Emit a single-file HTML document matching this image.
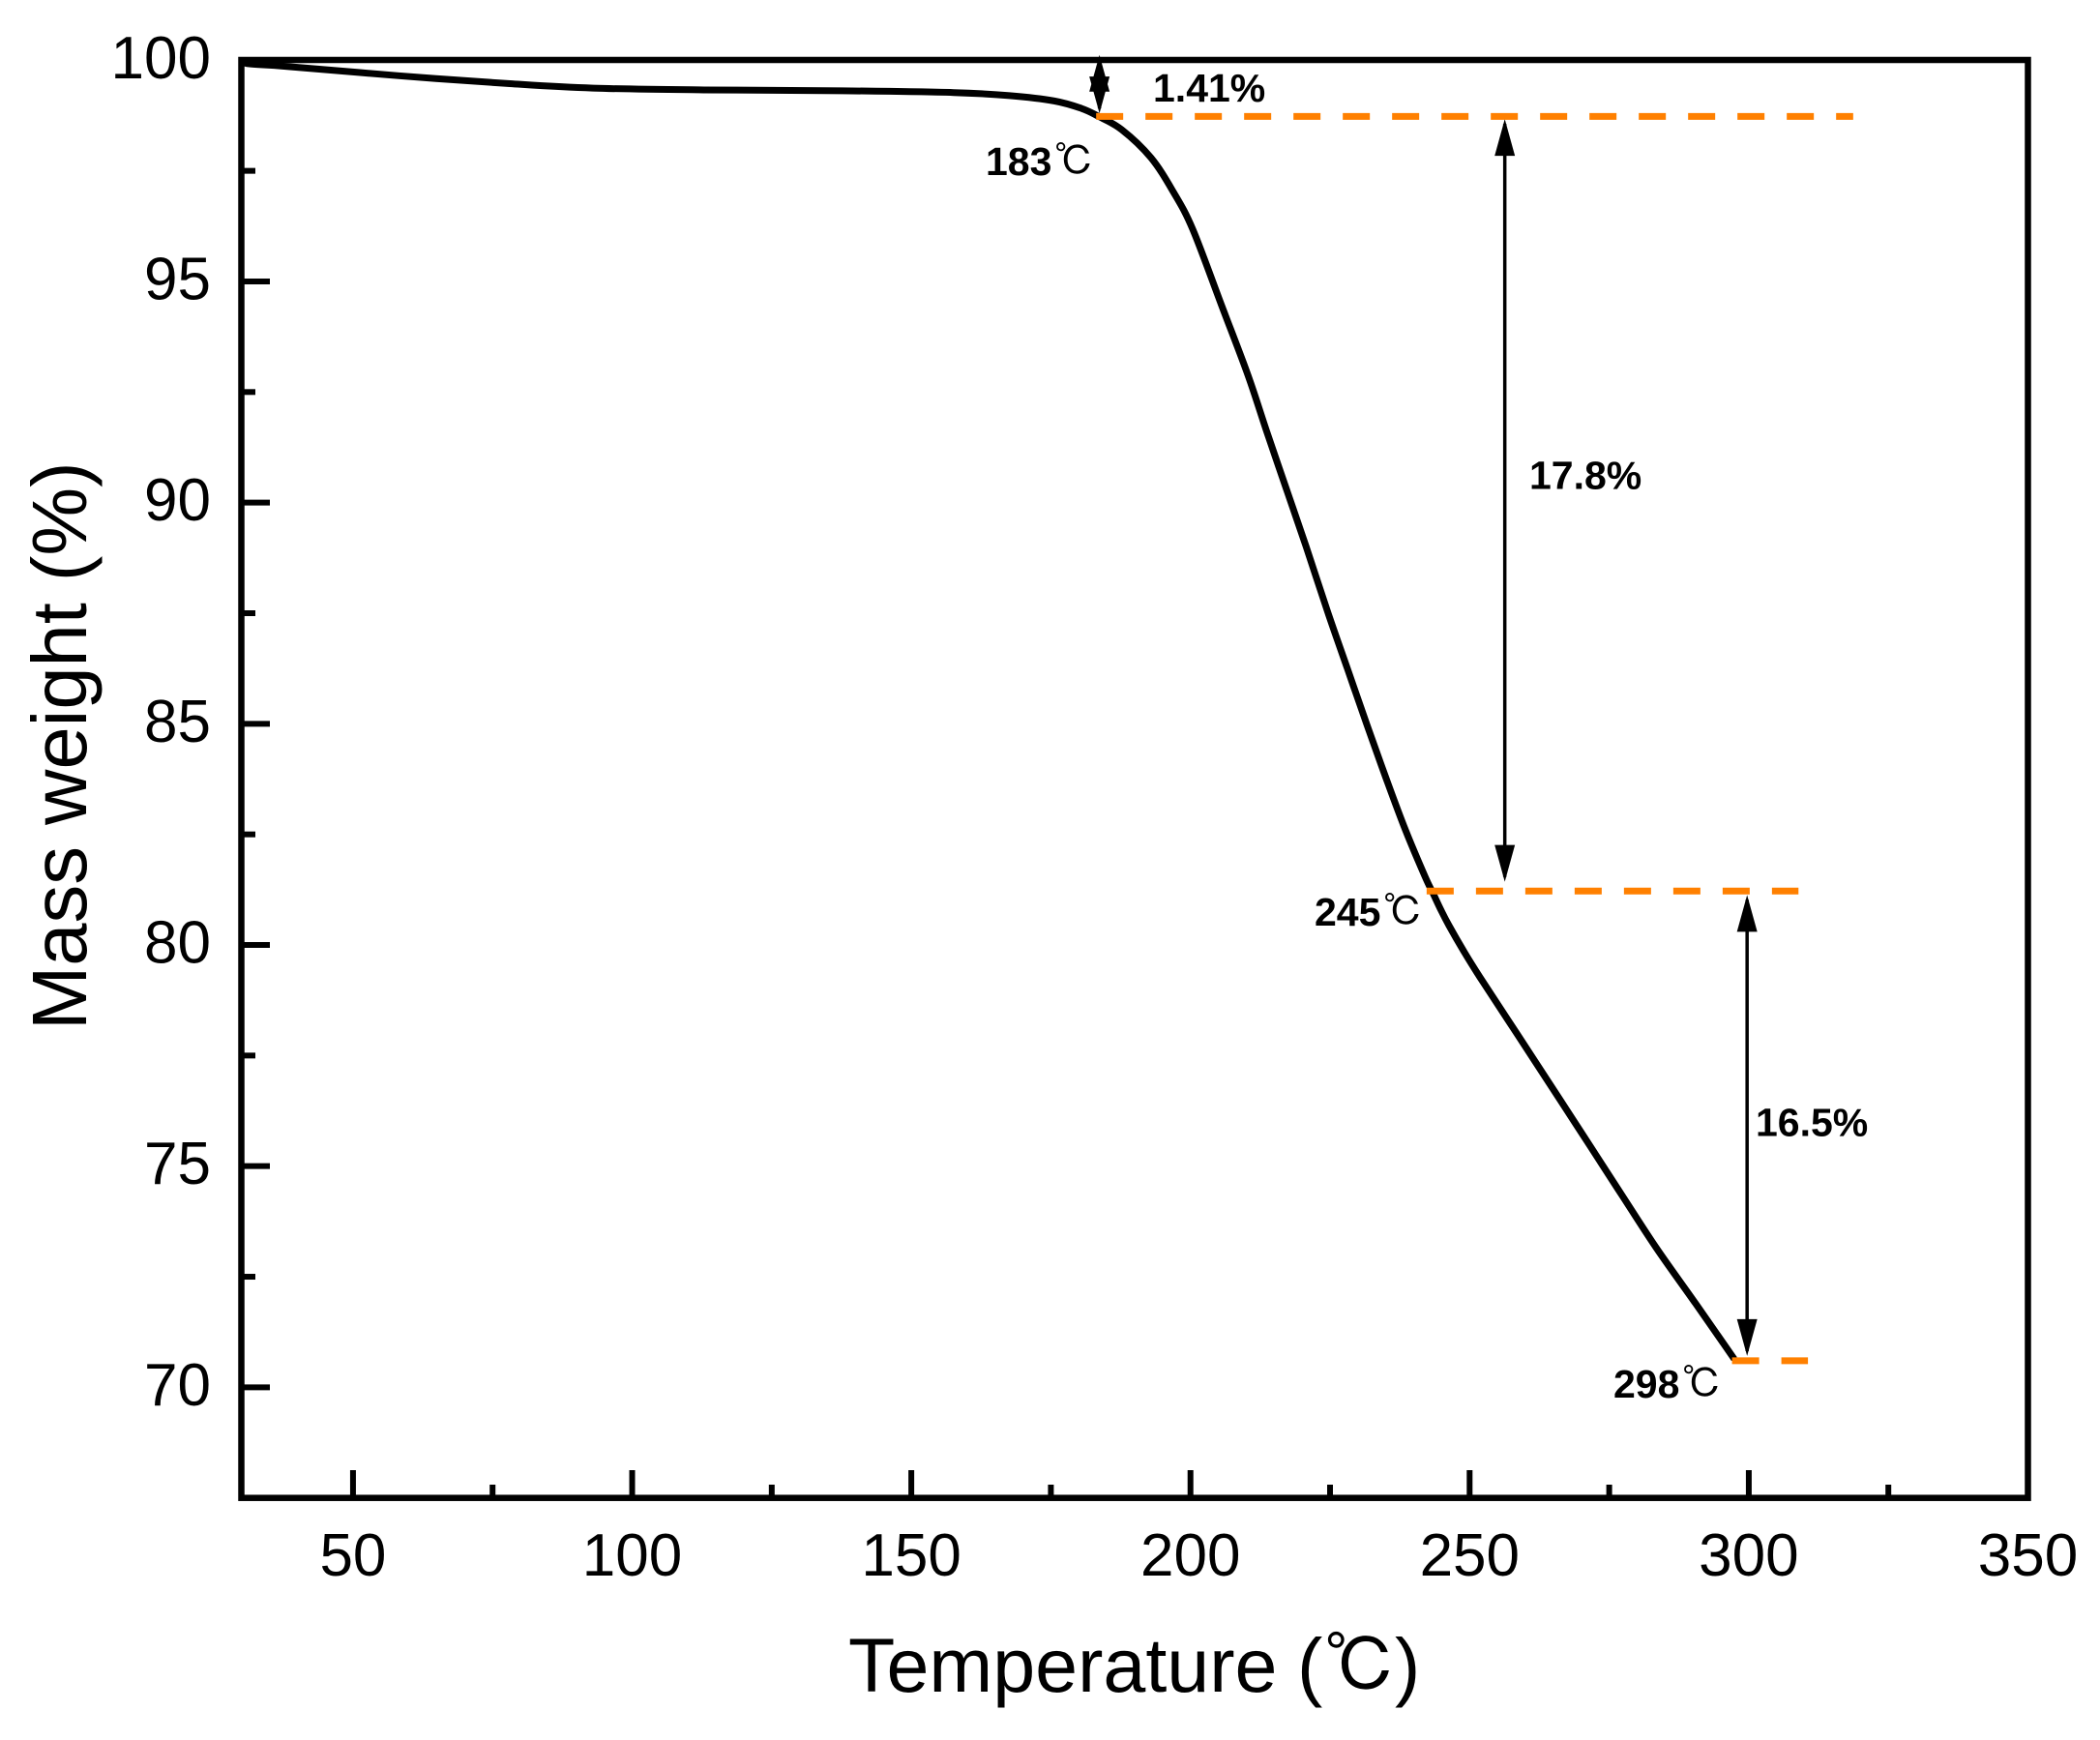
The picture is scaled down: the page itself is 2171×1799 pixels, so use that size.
<!DOCTYPE html>
<html lang="en">
<head>
<meta charset="utf-8">
<title>Mass weight vs temperature</title>
<style>
  html, body { margin: 0; padding: 0; background: #fff; width: 2171px; height: 1799px; overflow: hidden; }
  svg { display: block; }
  text { font-family: "Liberation Sans", "Noto Sans CJK SC", sans-serif; fill: #000; }
  .tick-label { font-size: 62px; }
  .axis-title { font-size: 79.5px; }
  .note { font-size: 41px; font-weight: 700; }
  .deg { font-family: "IPAGothic", "Noto Serif CJK SC", serif; font-weight: 400; }
</style>
</head>
<body>
<svg id="chart" xmlns="http://www.w3.org/2000/svg" width="2171" height="1799" viewBox="0 0 2171 1799">
  <rect x="0" y="0" width="2171" height="1799" fill="#fff"/>
  <g id="ticks"></g>
  <g id="tick-labels"></g>
  <g id="series"></g>
  <g id="arrows"></g>
  <g id="guides"></g>
  <rect x="249.5" y="62" width="1847" height="1486.7" fill="none" stroke="#000" stroke-width="6.5"/>

  <text class="axis-title" y="1749" font-size="79" style="font-size:79px"><tspan x="877">Temperature</tspan><tspan x="1341">(</tspan><tspan class="deg" x="1369" style="font-size:75px">℃</tspan><tspan x="1442">)</tspan></text>
  <text class="axis-title" transform="translate(89 1065) rotate(-90)" x="0" y="0">Mass weight (%)</text>

  <text class="note" x="1192" y="105">1.41%</text>
  <text class="note" x="1581" y="505.5">17.8%</text>
  <text class="note" x="1815" y="1174.5">16.5%</text>
  <text class="note" y="181"><tspan x="1019">183</tspan><tspan class="deg" x="1090">℃</tspan></text>
  <text class="note" y="957"><tspan x="1359">245</tspan><tspan class="deg" x="1430">℃</tspan></text>
  <text class="note" y="1445"><tspan x="1668">298</tspan><tspan class="deg" x="1739">℃</tspan></text>
</svg>
<script>
const temperatures = [30, 31.3, 38.2, 58.2, 78.1, 93.0, 112.9, 137.7, 157.6, 167.6, 175.6, 180.5, 183.4, 187.7, 192.9, 196.9, 200.4, 205.6, 210.3, 213.7, 217.2, 220.7, 224.6, 228.1, 231.6, 235.0, 238.5, 242.0, 243.4, 244.9, 246.3, 248.9, 251.8, 258.6, 266.2, 271.4, 277.3, 283.5, 290.5, 297.4];
const massWeights = [100.0, 99.92, 99.86, 99.65, 99.47, 99.37, 99.33, 99.31, 99.27, 99.20, 99.08, 98.91, 98.74, 98.43, 97.80, 97.03, 96.18, 94.45, 92.88, 91.59, 90.30, 89.01, 87.52, 86.25, 84.98, 83.78, 82.60, 81.55, 81.18, 80.78, 80.44, 79.87, 79.28, 77.97, 76.50, 75.49, 74.34, 73.14, 71.89, 70.64];
const xMajorTicks = [50, 100, 150, 200, 250, 300, 350];
const xMinorTicks = [75, 125, 175, 225, 275, 325];
const yMajorTicks = [70, 75, 80, 85, 90, 95, 100];
const yMinorTicks = [72.5, 77.5, 82.5, 87.5, 92.5, 97.5];
const guideLevels = [98.73, 81.22, 70.6];
const guideStarts = [183.1, 242.3, 297.0];
const guideEnds = [318.7, 308.9, 310.6];
const arrowTemps = [183.7, 256.3, 299.7];
const arrowTops = [100.12, 98.67, 81.13];
const arrowBottoms = [98.8, 81.43, 70.71];

const NS = 'http://www.w3.org/2000/svg';
const xScale = v => 249.5 + (v - 30) * (1847 / 320);
const yScale = v => 62.3 + (100 - v) * (1486.4 / 32.5);
const AXIS_BOTTOM = 1548.7;
const AXIS_LEFT = 249.5;

function make(tag, attrs, parent) {
  const el = document.createElementNS(NS, tag);
  for (const k in attrs) el.setAttribute(k, attrs[k]);
  parent.appendChild(el);
  return el;
}

const tickLayer = document.getElementById('ticks');
const labelLayer = document.getElementById('tick-labels');
const seriesLayer = document.getElementById('series');
const arrowLayer = document.getElementById('arrows');
const guideLayer = document.getElementById('guides');

xMajorTicks.forEach(v => {
  const t = make('line', { x1: xScale(v), x2: xScale(v), y1: AXIS_BOTTOM, y2: 1520, stroke: '#000', 'stroke-width': 6 }, tickLayer);
  
  
  const l = make('text', { class: 'tick-label', x: xScale(v), y: 1629, 'text-anchor': 'middle' }, labelLayer);
  l.textContent = String(v);
  
  
});
xMinorTicks.forEach(v => {
  const t = make('line', { x1: xScale(v), x2: xScale(v), y1: AXIS_BOTTOM, y2: 1535, stroke: '#000', 'stroke-width': 6 }, tickLayer);
  
  
});
yMajorTicks.forEach(v => {
  const t = make('line', { x1: AXIS_LEFT, x2: 279, y1: yScale(v), y2: yScale(v), stroke: '#000', 'stroke-width': 6 }, tickLayer);
  
  
  const l = make('text', { class: 'tick-label', x: 218, y: yScale(v) + 18.5, 'text-anchor': 'end' }, labelLayer);
  l.textContent = String(v);
  
  
});
yMinorTicks.forEach(v => {
  const t = make('line', { x1: AXIS_LEFT, x2: 264, y1: yScale(v), y2: yScale(v), stroke: '#000', 'stroke-width': 6 }, tickLayer);
  
  
});

const curvePts = temperatures.map((t, i) => [xScale(t), yScale(massWeights[i])]);
let curveD = 'M' + curvePts[0][0].toFixed(2) + ' ' + curvePts[0][1].toFixed(2);
for (let i = 0; i < curvePts.length - 1; i++) {
  const p0 = curvePts[Math.max(i - 1, 0)], p1 = curvePts[i], p2 = curvePts[i + 1], p3 = curvePts[Math.min(i + 2, curvePts.length - 1)];
  const c1x = p1[0] + (p2[0] - p0[0]) / 6, c1y = p1[1] + (p2[1] - p0[1]) / 6;
  const c2x = p2[0] - (p3[0] - p1[0]) / 6, c2y = p2[1] - (p3[1] - p1[1]) / 6;
  curveD += ' C' + [c1x, c1y, c2x, c2y, p2[0], p2[1]].map(n => n.toFixed(2)).join(' ');
}
const curve = make('path', { d: curveD, fill: 'none', stroke: '#000', 'stroke-width': 7, 'stroke-linejoin': 'round' }, seriesLayer);



const HEAD_LEN = 38, HEAD_HALF = 10.5;
arrowTemps.forEach((t, i) => {
  const x = xScale(t), top = yScale(arrowTops[i]), bot = yScale(arrowBottoms[i]);
  const shaft = make('line', { x1: x, x2: x, y1: top + 5, y2: bot - 5, stroke: '#000', 'stroke-width': 3.5 }, arrowLayer);
  
  
  const up = make('polygon', { points: `${x},${top} ${x - HEAD_HALF},${top + HEAD_LEN} ${x + HEAD_HALF},${top + HEAD_LEN}`, fill: '#000' }, arrowLayer);
  
  
  const down = make('polygon', { points: `${x},${bot} ${x - HEAD_HALF},${bot - HEAD_LEN} ${x + HEAD_HALF},${bot - HEAD_LEN}`, fill: '#000' }, arrowLayer);
  
  
});

guideLevels.forEach((v, i) => {
  const g = make('line', { x1: xScale(guideStarts[i]), x2: xScale(guideEnds[i]), y1: yScale(v), y2: yScale(v), stroke: '#ff8000', 'stroke-width': 7, 'stroke-dasharray': '28 23' }, guideLayer);
  
  
});
</script>
</body>
</html>
